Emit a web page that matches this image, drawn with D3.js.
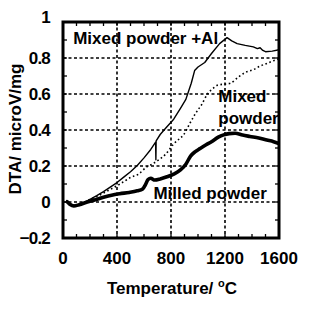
<!DOCTYPE html>
<html>
<head>
<meta charset="utf-8">
<script src="https://cdn.jsdelivr.net/npm/d3@7/dist/d3.min.js"></script>
<style>
  html, body { margin: 0; padding: 0; background: #fff; }
  svg { display: block; }
  text { font-family: "Liberation Sans", Arial, sans-serif; font-weight: bold; fill: #000; }
</style>
</head>
<body>
<svg id="chart" width="325" height="325"></svg>
<script>
// DTA curves: temperature (°C) and signal (microV/mg)
const tempMixedAl = [25, 60, 100, 150, 200, 250, 300, 350, 400, 450, 500, 550, 600, 650, 686, 688, 690, 720, 760, 820, 870, 910, 950, 975, 1000, 1050, 1100, 1160, 1215, 1250, 1290, 1350, 1410, 1440, 1460, 1480, 1500, 1550, 1600];
const dtaMixedAl  = [0.01, -0.015, -0.02, -0.005, 0.015, 0.035, 0.058, 0.083, 0.108, 0.138, 0.168, 0.203, 0.245, 0.292, 0.333, 0.235, 0.34, 0.375, 0.41, 0.46, 0.52, 0.57, 0.66, 0.73, 0.75, 0.775, 0.825, 0.88, 0.913, 0.895, 0.88, 0.87, 0.862, 0.852, 0.857, 0.842, 0.835, 0.838, 0.846];

const tempMixed = [25, 60, 100, 150, 200, 250, 300, 350, 400, 450, 500, 560, 620, 660, 700, 760, 817, 860, 890, 940, 980, 1030, 1070, 1110, 1150, 1200, 1240, 1300, 1350, 1410, 1460, 1510, 1560, 1600];
const dtaMixed  = [0.01, -0.015, -0.02, -0.005, 0.015, 0.03, 0.05, 0.07, 0.09, 0.113, 0.136, 0.155, 0.195, 0.21, 0.23, 0.265, 0.32, 0.35, 0.37, 0.437, 0.49, 0.545, 0.6, 0.63, 0.65, 0.655, 0.66, 0.695, 0.72, 0.735, 0.755, 0.77, 0.785, 0.795];

const tempMilled = [25, 50, 80, 120, 180, 240, 300, 360, 420, 490, 550, 590, 610, 630, 650, 680, 720, 770, 820, 870, 910, 945, 980, 1015, 1060, 1100, 1150, 1190, 1230, 1275, 1330, 1385, 1450, 1510, 1560, 1600];
const dtaMilled  = [0.005, -0.012, -0.022, -0.015, 0.0, 0.012, 0.026, 0.038, 0.046, 0.053, 0.062, 0.072, 0.095, 0.125, 0.132, 0.122, 0.128, 0.14, 0.155, 0.178, 0.21, 0.255, 0.28, 0.297, 0.318, 0.335, 0.36, 0.373, 0.38, 0.382, 0.372, 0.364, 0.355, 0.344, 0.335, 0.325];

const xTicks = [0, 400, 800, 1200, 1600];
const yTicks = [-0.2, 0, 0.2, 0.4, 0.6, 0.8, 1];
const seriesNames = ["Mixed powder +Al", "Mixed", "powder", "Milled powder"];

const svg = d3.select("#chart");
const m = { left: 63, right: 279, top: 22, bottom: 238 };

const x = d3.scaleLinear().domain([0, 1600]).range([m.left, m.right]);
const y = d3.scaleLinear().domain([-0.2, 1]).range([m.bottom, m.top]);

// dashed grid at the major ticks
const grid = svg.append("g").attr("stroke", "#000").attr("stroke-width", 1.6).attr("stroke-dasharray", "3,2.5");
grid.selectAll("line.v").data(xTicks.slice(1, -1)).join("line")
  .attr("x1", d => x(d)).attr("x2", d => x(d)).attr("y1", m.top).attr("y2", m.bottom);
grid.selectAll("line.h").data(yTicks.slice(1, -1)).join("line")
  .attr("x1", m.left).attr("x2", m.right).attr("y1", d => y(d)).attr("y2", d => y(d));

// curves
const line = d3.line().x(d => x(d[0])).y(d => y(d[1]));
const zip = (a, b) => a.map((t, i) => [t, b[i]]);

svg.append("path").datum(zip(tempMilled, dtaMilled))
  .attr("d", line.curve(d3.curveMonotoneX)).attr("fill", "none")
  .attr("stroke", "#000").attr("stroke-width", 3.6).attr("stroke-linejoin", "round");

svg.append("path").datum(zip(tempMixed, dtaMixed))
  .attr("d", line.curve(d3.curveMonotoneX)).attr("fill", "none")
  .attr("stroke", "#000").attr("stroke-width", 1.6).attr("stroke-dasharray", "1.6,2.6");

svg.append("path").datum(zip(tempMixedAl, dtaMixedAl))
  .attr("d", line.curve(d3.curveLinear)).attr("fill", "none")
  .attr("stroke", "#000").attr("stroke-width", 1.4).attr("stroke-linejoin", "round");

// minor ticks on all four sides, pointing inward
const xMinor = d3.range(0, 1601, 100);
const yMinor = d3.range(-0.2, 1.0001, 0.1);
const ticks = svg.append("g").attr("stroke", "#000").attr("stroke-width", 1.3);
xMinor.forEach(t => {
  ticks.append("line").attr("x1", x(t)).attr("x2", x(t)).attr("y1", m.bottom).attr("y2", m.bottom - 4);
  ticks.append("line").attr("x1", x(t)).attr("x2", x(t)).attr("y1", m.top).attr("y2", m.top + 4);
});
yMinor.forEach(v => {
  ticks.append("line").attr("x1", m.left).attr("x2", m.left + 4).attr("y1", y(v)).attr("y2", y(v));
  ticks.append("line").attr("x1", m.right).attr("x2", m.right - 4).attr("y1", y(v)).attr("y2", y(v));
});

// frame
svg.append("rect").attr("x", m.left).attr("y", m.top)
  .attr("width", m.right - m.left).attr("height", m.bottom - m.top)
  .attr("fill", "none").attr("stroke", "#000").attr("stroke-width", 3);

// tick labels
const fmtY = d => d === 1 ? "1" : d === 0 ? "0" : d3.format(".1f")(d);
svg.append("g").selectAll("text").data(yTicks).join("text")
  .attr("x", m.left - 13).attr("y", d => y(d) + (d === 1 ? -5 : 0))
  .attr("dy", "0.36em").attr("text-anchor", "end").attr("font-size", 17)
  .attr("letter-spacing", -0.8)
  .text(fmtY);
svg.append("g").selectAll("text").data(xTicks).join("text")
  .attr("x", d => x(d)).attr("y", 264)
  .attr("text-anchor", "middle").attr("font-size", 17)
  .text(d => d);

// axis titles
const xt = svg.append("text").attr("x", 172).attr("y", 294).attr("text-anchor", "middle").attr("font-size", 17);
xt.append("tspan").text("Temperature/ ");
xt.append("tspan").attr("font-size", 11).attr("dy", -7).text("o");
xt.append("tspan").attr("dy", 7).text("C");

svg.append("text").attr("transform", "translate(21,129) rotate(-90)")
  .attr("text-anchor", "middle").attr("font-size", 17)
  .text("DTA/ microV/mg");

// curve labels
const lab = svg.append("g").attr("font-size", 17);
lab.append("text").attr("x", x(75)).attr("y", y(0.88)).text(seriesNames[0]);
lab.append("text").attr("x", x(1150)).attr("y", y(0.553)).text(seriesNames[1]);
lab.append("text").attr("x", x(1150)).attr("y", y(0.433)).text(seriesNames[2]);
lab.append("text").attr("x", x(670)).attr("y", y(0.017)).text(seriesNames[3]);
</script>
</body>
</html>
